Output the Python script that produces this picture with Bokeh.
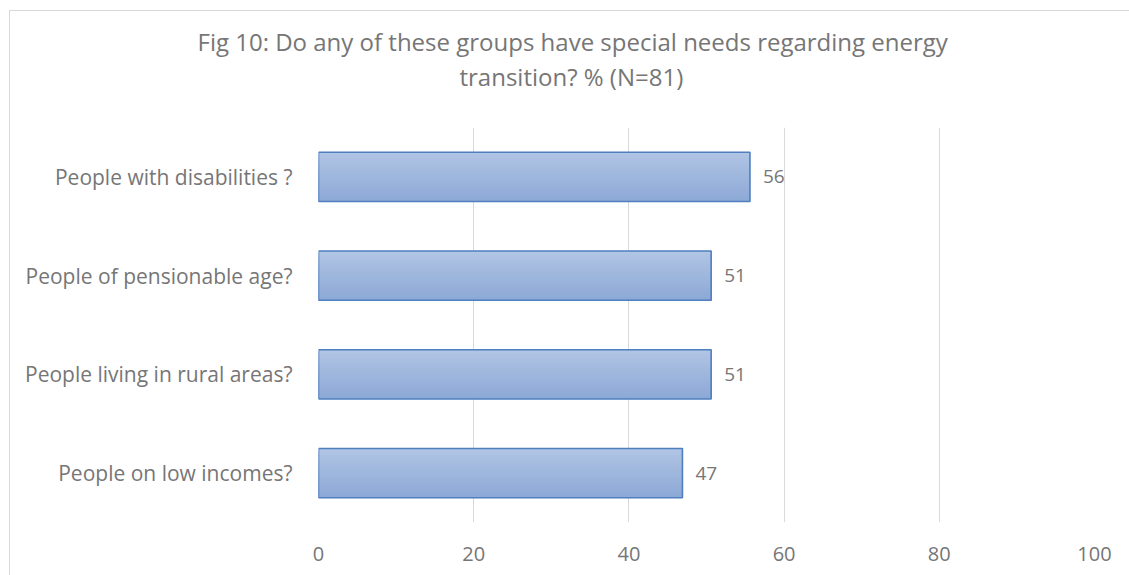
from bokeh.plotting import figure
from bokeh.models import ColumnDataSource, FactorRange, Range1d, LabelSet, Title, FixedTicker
from bokeh.core.properties import value
from bokeh.transform import dodge
from bokeh.embed import file_html
from bokeh.resources import INLINE

title_lines = ["Fig 10: Do any of these groups have special needs regarding energy",
               "transition? % (N=81)"]
categories = ["People with disabilities ?", "People of pensionable age?",
              "People living in rural areas?", "People on low incomes?"]
values = [55.6, 50.6, 50.6, 46.9]
x_ticks = [0, 20, 40, 60, 80, 100]

GRAY = "#767676"
FONT = "Open Sans"
H = 565

factors = list(reversed(categories))
p = figure(width=1120, height=H, y_range=FactorRange(*factors), x_range=Range1d(0, 100),
           output_backend="svg", toolbar_location=None,
           min_border_left=308, min_border_right=36, min_border_top=116, min_border_bottom=54,
           margin=(10, 0, 0, 9))
p.styles = {"border-left": "1px solid #d9d9d9", "border-top": "1px solid #d9d9d9"}
p.outline_line_color = None
p.background_fill_color = "white"
p.border_fill_color = "white"

src = ColumnDataSource(dict(cat=categories, val=values,
                            lab=[str(int(round(v))) for v in values]))

# gradient bars via nested strips (each from its top edge down to bar bottom)
bar_h = 0.5
n = 16
top_c = (176, 196, 228)
bot_c = (141, 169, 214)
for i in range(n):
    t = i / (n - 1)
    c = tuple(int(round(top_c[k] + (bot_c[k] - top_c[k]) * t)) for k in range(3))
    top = bar_h / 2 - i * bar_h / n
    hh = top + bar_h / 2
    off = top - hh / 2
    p.hbar(y=dodge("cat", off, range=p.y_range), right="val", left=0, height=hh,
           source=src, fill_color="#%02x%02x%02x" % c, line_color=None)
p.hbar(y="cat", right="val", left=0, height=bar_h, source=src,
       fill_color=None, line_color="#4f7fbf", line_width=1.6)

labels = LabelSet(x="val", y="cat", text="lab", source=src, x_offset=13,
                  text_baseline="middle", text_font=value(FONT), text_font_size="19px",
                  text_color=GRAY)
p.add_layout(labels)

# title panel: spacer nearest the plot, then line 2, then line 1
tstyle = dict(text_font=FONT, text_font_size="24px", text_font_style="normal",
              text_color=GRAY, standoff=0, vertical_align="bottom", align="left")
p.add_layout(Title(text=" ", offset=0, **tstyle), "above")
p.add_layout(Title(text=title_lines[1], offset=141, **tstyle), "above")
p.add_layout(Title(text=title_lines[0], offset=-121, **tstyle), "above")

p.xaxis.ticker = FixedTicker(ticks=x_ticks)
for ax in (p.xaxis, p.yaxis):
    ax.axis_line_color = None
    ax.major_tick_line_color = None
    ax.minor_tick_line_color = None
    ax.major_label_text_color = GRAY
    ax.major_label_text_font = FONT
p.xaxis.major_label_text_font_size = "20px"
p.yaxis.major_label_text_font_size = "21px"
p.xaxis.major_label_standoff = 18
p.yaxis.major_label_standoff = 20
p.ygrid.grid_line_color = None
p.xgrid.grid_line_color = "#d9d9d9"
p.xgrid.grid_line_width = 1

open("out.html", "w").write(file_html(p, INLINE))
